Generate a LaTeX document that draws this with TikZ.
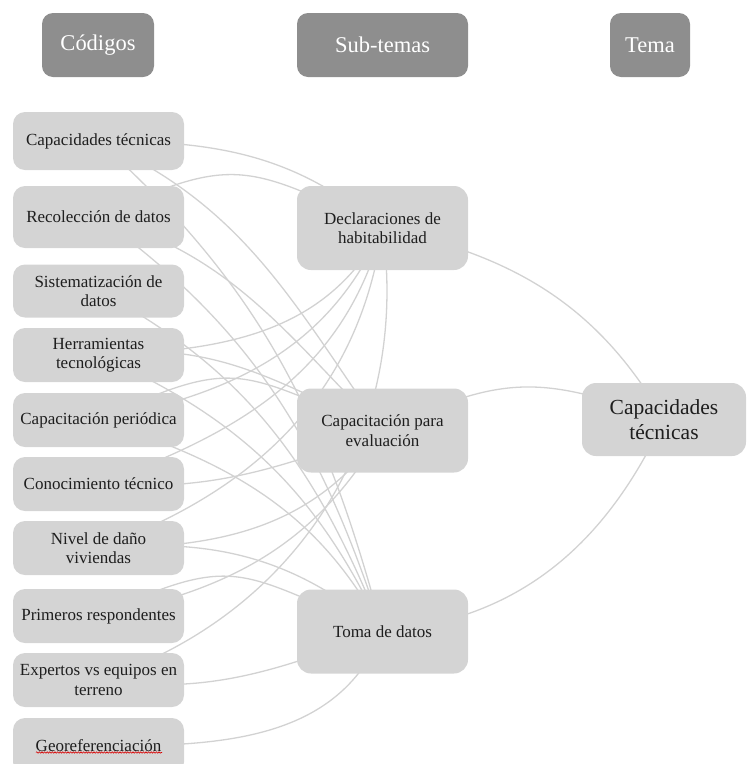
\documentclass[tikz,border=0pt]{standalone}
\usepackage{fontspec}
\setmainfont{Liberation Serif}
\usetikzlibrary{decorations.pathmorphing}
\pgfdeclarelayer{bg}
\pgfsetlayers{bg,main}
\definecolor{boxgray}{HTML}{D4D4D4}
\definecolor{hdrgray}{HTML}{8E8E8E}
\definecolor{linegray}{HTML}{D2D2D2}
\definecolor{txt}{HTML}{1E1E1E}
\begin{document}
\begin{tikzpicture}[x=1pt,y=-1pt,
  code/.style={fill=boxgray, rounded corners=12pt, minimum width=171pt, inner sep=0pt,
    align=center, text=txt, font=\fontsize{17}{19.5}\selectfont},
  sub/.style={fill=boxgray, rounded corners=14pt, minimum width=171pt, minimum height=84pt,
    inner sep=0pt, align=center, text=txt, font=\fontsize{17}{19.5}\selectfont},
  tema/.style={fill=boxgray, rounded corners=14pt, minimum width=164pt, minimum height=73pt,
    inner sep=0pt, align=center, text=txt, font=\fontsize{21.5}{25}\selectfont},
  hdr/.style={fill=hdrgray, rounded corners=11pt, minimum height=64pt, inner sep=0pt,
    text=white, font=\fontsize{22.5}{24}\selectfont},
  conn/.style={draw=linegray, line width=1.3pt}
]
\useasboundingbox (0,0) rectangle (747,764);

% headers
\node[hdr, minimum width=112pt] (h1) at (98,45) {Códigos};
\node[hdr, minimum width=171pt] (h2) at (382.5,45) {Sub-temas};
\node[hdr, minimum width=80pt] (h3) at (650,45) {Tema};

% codes
\node[code, minimum height=58pt] (c1) at (98.5,141) {Capacidades técnicas};
\node[code, minimum height=62pt] (c2) at (98.5,217) {Recolección de datos};
\node[code, minimum height=53pt] (c3) at (98.5,291) {Sistematización de\\datos};
\node[code, minimum height=54pt] (c4) at (98.5,355) {Herramientas\\tecnológicas};
\node[code, minimum height=54pt] (c5) at (98.5,420) {Capacitación periódica};
\node[code, minimum height=54pt] (c6) at (98.5,484) {Conocimiento técnico};
\node[code, minimum height=54pt] (c7) at (98.5,548) {Nivel de daño\\viviendas};
\node[code, minimum height=54pt] (c8) at (98.5,616) {Primeros respondentes};
\node[code, minimum height=54pt] (c9) at (98.5,680) {Expertos vs equipos en\\terreno};
\node[code, minimum height=56pt] (c10) at (98.5,746) {Georeferenciación};

% sub-themes
\node[sub] (decl) at (382.5,228) {Declaraciones de\\habitabilidad};
\node[sub] (cap) at (382.5,430.5) {Capacitación para\\evaluación};
\node[sub] (toma) at (382.5,631.5) {Toma de datos};

% theme
\node[tema] (tem) at (664,419.5) {Capacidades\\técnicas};

% spell-check squiggle
\draw[red!85!black, line width=0.6pt, decorate,
  decoration={snake, amplitude=0.7pt, segment length=2.6pt}]
  (36,752.5) -- (162,752.5);

\begin{pgfonlayer}{bg}
\foreach \s/\t/\o/\i/\l in {
  c1/decl/0/140/1, c1/cap/-24/125/1, c1/toma/-42/105/1,
  c2/decl/25/155/1.35, c2/cap/-16/135/1, c2/toma/-36/108/1,
  c3/toma/-28/112/1,
  c4/decl/2/-118/1, c4/cap/8/155/1, c4/toma/-24/115/1,
  c5/decl/11/-114/1, c5/cap/25/158/1.4, c5/toma/-18/118/1,
  c6/decl/20/-105/1, c6/cap/-4/-160/1,
  c7/decl/20/-98/1, c7/cap/0/-125/1, c7/toma/5/140/1,
  c8/cap/11/-120/1, c8/toma/25/158/1.4,
  c9/decl/18/-82/1, c9/toma/-8/-160/1,
  c10/toma/0/-112/1,
  decl/tem/-12/120/1, cap/tem/25/160/1.2, toma/tem/5/-115/1}
  \draw[conn] (\s.center) to[out=\o, in=\i, looseness=\l] (\t.center);
\end{pgfonlayer}
\end{tikzpicture}
\end{document}
